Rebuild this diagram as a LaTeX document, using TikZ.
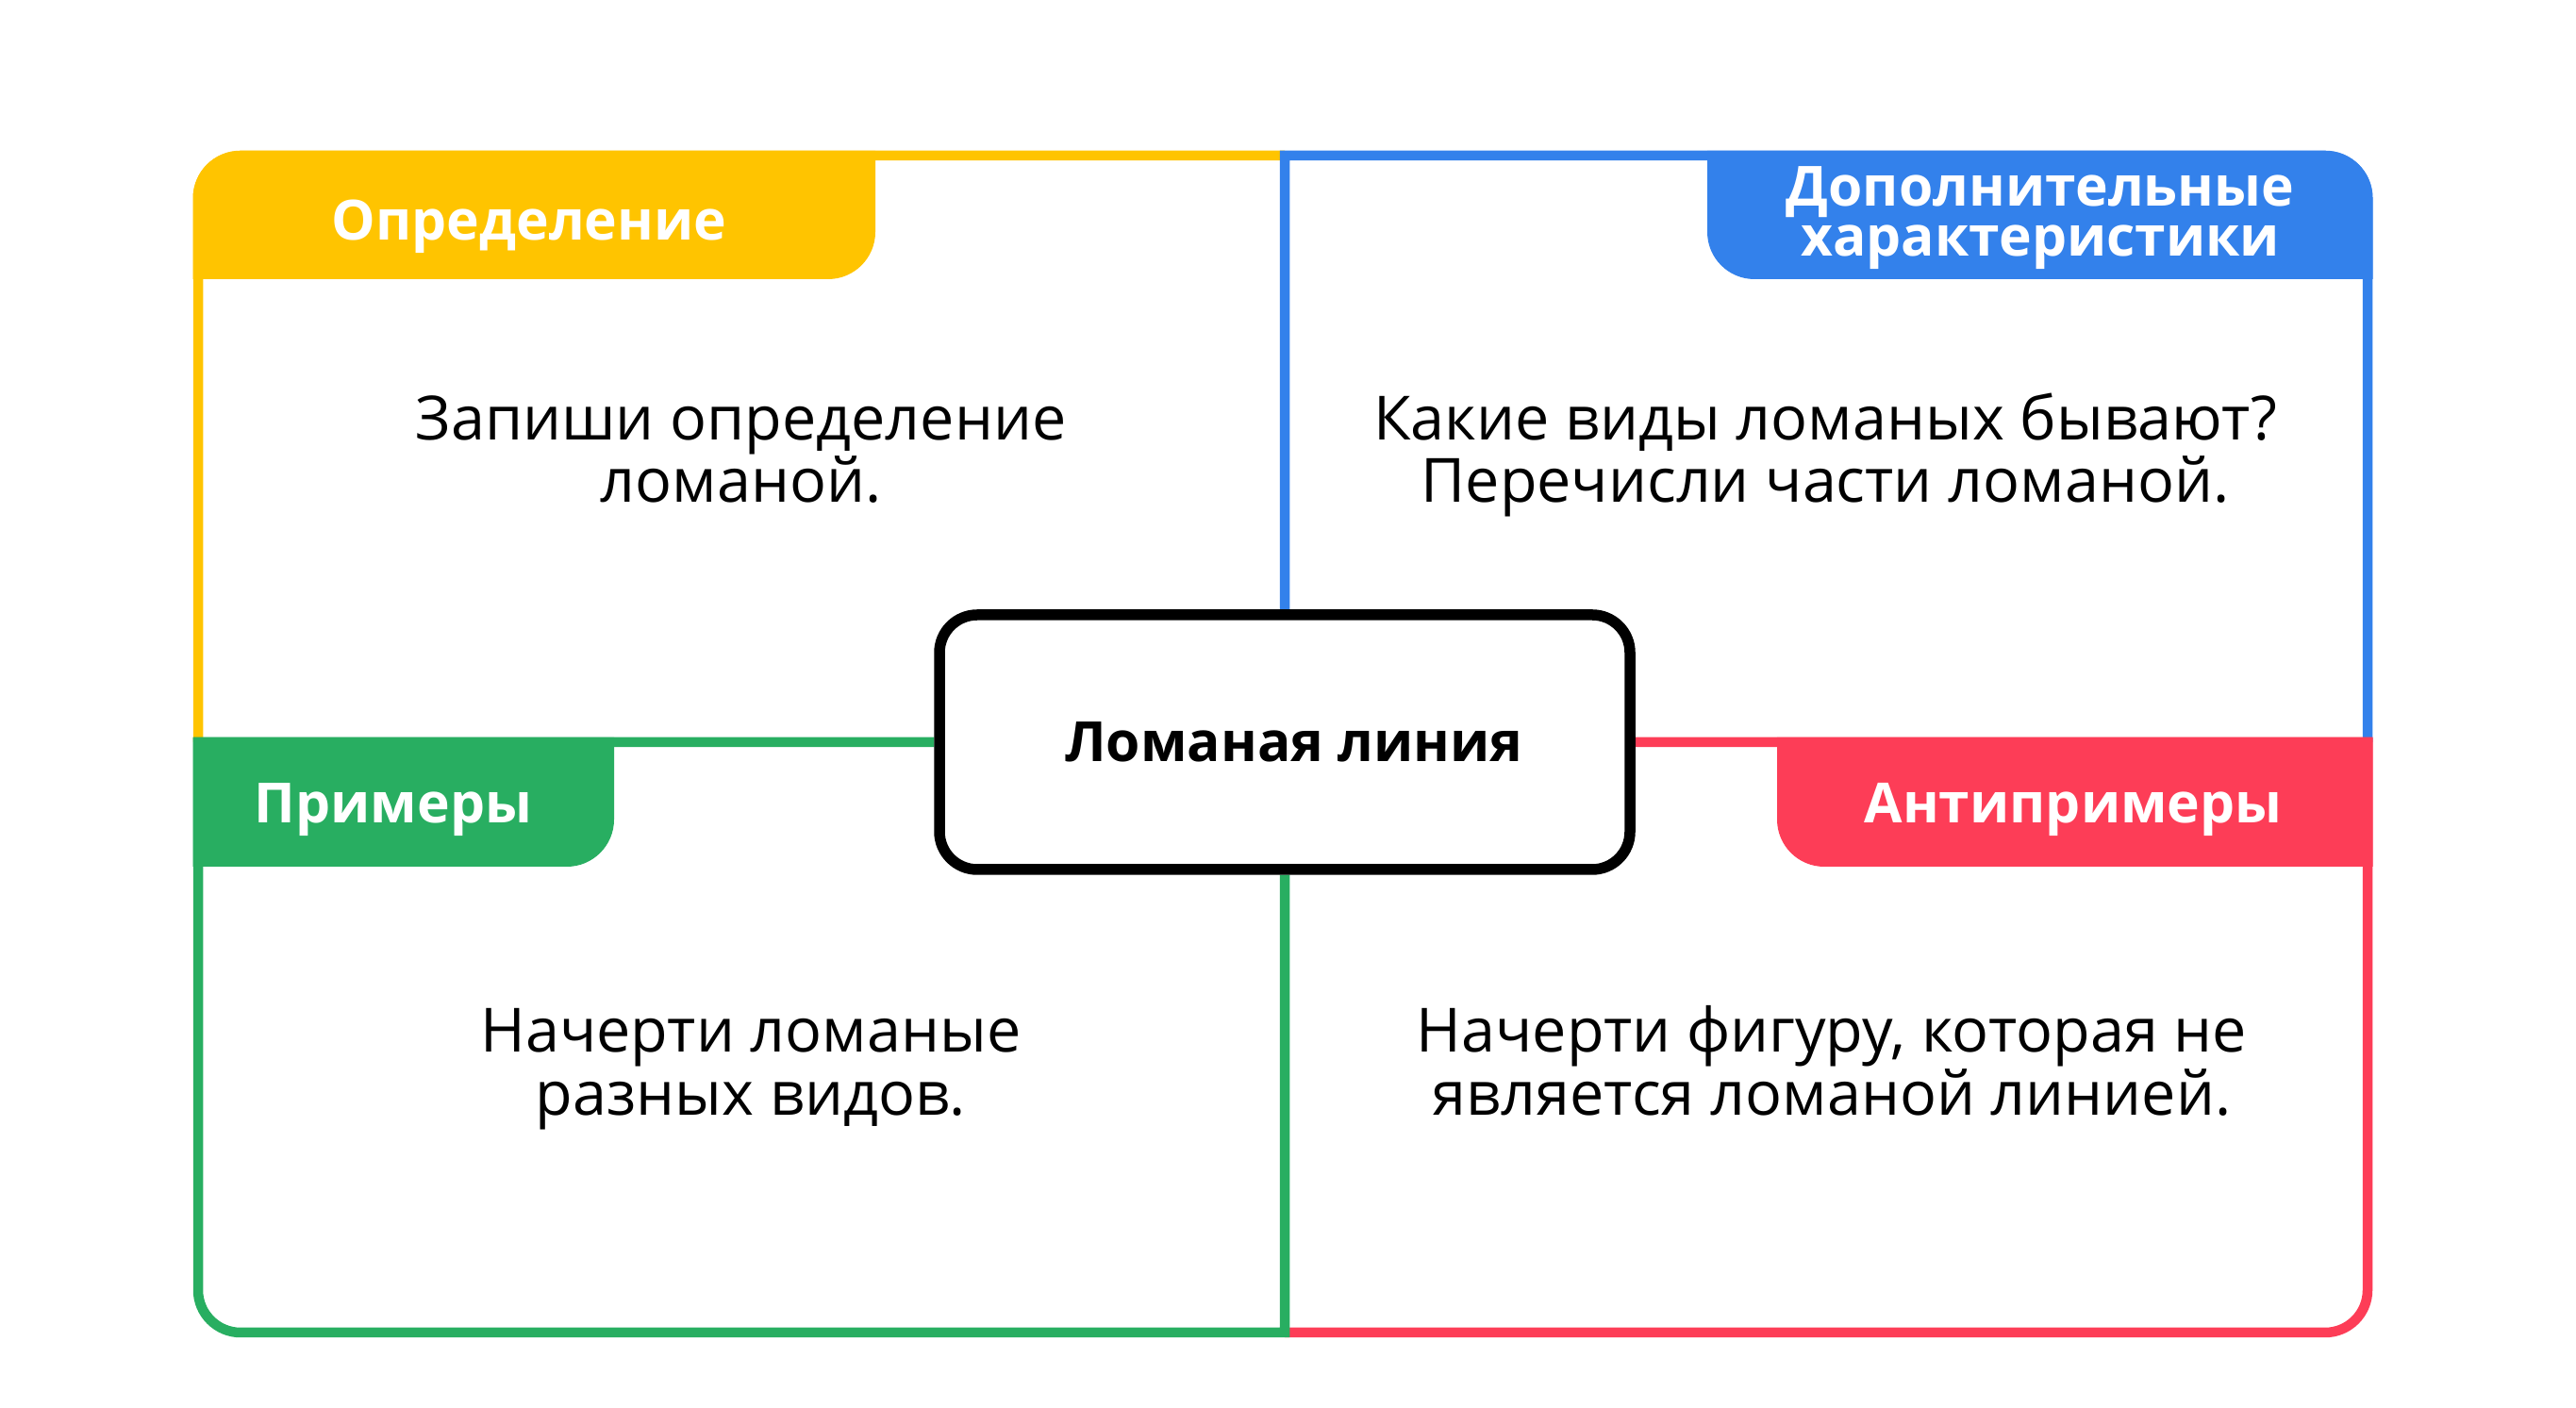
\documentclass[tikz,border=0pt]{standalone}
\usepackage{fontspec}
\setmainfont{Open Sans}
\usetikzlibrary{positioning,backgrounds}
\definecolor{ucyellow}{HTML}{FFC400}
\definecolor{ucblue}{HTML}{3381EB}
\definecolor{ucgreen}{HTML}{28AE61}
\definecolor{ucred}{HTML}{FD3D57}
\tikzset{
  quadline/.style={line width=0.105cm},
  tabtext/.style={text=white, inner sep=0pt, align=center, font=\fontsize{16.7}{15}\selectfont\bfseries},
  bodytext/.style={text=black, inner sep=0pt, align=center, font=\fontsize{18.4}{19}\selectfont},
}

\begin{document}
\begin{tikzpicture}
\useasboundingbox (0,0) rectangle (27.31,14.93);
% centre
\node[draw, fill=white, line width=0.115cm, rounded corners=0.4cm, minimum width=7.32cm, minimum height=2.70cm, font=\fontsize{16.7}{20}\selectfont\bfseries] (topic) at (13.62,7.06) {\hspace*{0.2cm}Ломаная линия};

\begin{scope}[on background layer]
\fill[white] (0,0) rectangle (27.31,14.93);
% frame
\draw[quadline, ucyellow] (13.62,13.28) -- (2.55,13.28) arc[start angle=90, end angle=180, radius=0.45] -- (2.10,7.06);
\draw[quadline, ucblue] (topic.north) -- (13.62,13.28) -- (24.65,13.28) arc[start angle=90, end angle=0, radius=0.45] -- (25.10,7.06);
\draw[quadline, ucred] (topic.east) -- (25.10,7.06) -- (25.10,1.25) arc[start angle=0, end angle=-90, radius=0.45] -- (13.62,0.80);
\draw[quadline, ucgreen] (topic.west) -- (2.10,7.06) -- (2.10,1.25) arc[start angle=180, end angle=270, radius=0.45] -- (13.62,0.80) -- (topic.south);
% tabs
\fill[ucyellow] (2.045,11.97) -- (2.045,12.83) arc[start angle=180, end angle=90, radius=0.5] -- (9.28,13.33) -- (9.28,12.47) arc[start angle=0, end angle=-90, radius=0.5] -- cycle;
\fill[ucblue] (25.155,11.97) -- (25.155,12.83) arc[start angle=0, end angle=90, radius=0.5] -- (18.10,13.33) -- (18.10,12.47) arc[start angle=180, end angle=270, radius=0.5] -- cycle;
\fill[ucgreen] (2.045,7.11) -- (6.51,7.11) -- (6.51,6.24) arc[start angle=0, end angle=-90, radius=0.5] -- (2.045,5.74) -- cycle;
\fill[ucred] (25.155,7.11) -- (18.84,7.11) -- (18.84,6.24) arc[start angle=180, end angle=270, radius=0.5] -- (25.155,5.74) -- cycle;
\end{scope}

\node[tabtext, anchor=base] (defhead) at (5.61,12.38) {Определение};
\node[tabtext] (morehead) at (21.63,12.62) {Дополнительные\\характеристики};
\node[tabtext, anchor=base] (exhead) at (4.17,6.20) {Примеры};
\node[tabtext, anchor=base] (antihead) at (21.98,6.20) {Антипримеры};

\node[bodytext] (deftext) at (7.855,10.165) {Запиши определение\\ломаной.};
\node[bodytext] (moretext) at (19.35,10.105) {Какие виды ломаных бывают?\\Перечисли части ломаной.};
\node[bodytext] (extext) at (7.96,3.59) {Начерти ломаные\\разных видов.};
\node[bodytext] (antitext) at (19.42,3.68) {Начерти фигуру, которая не\\является ломаной линией.};
\end{tikzpicture}
\end{document}
